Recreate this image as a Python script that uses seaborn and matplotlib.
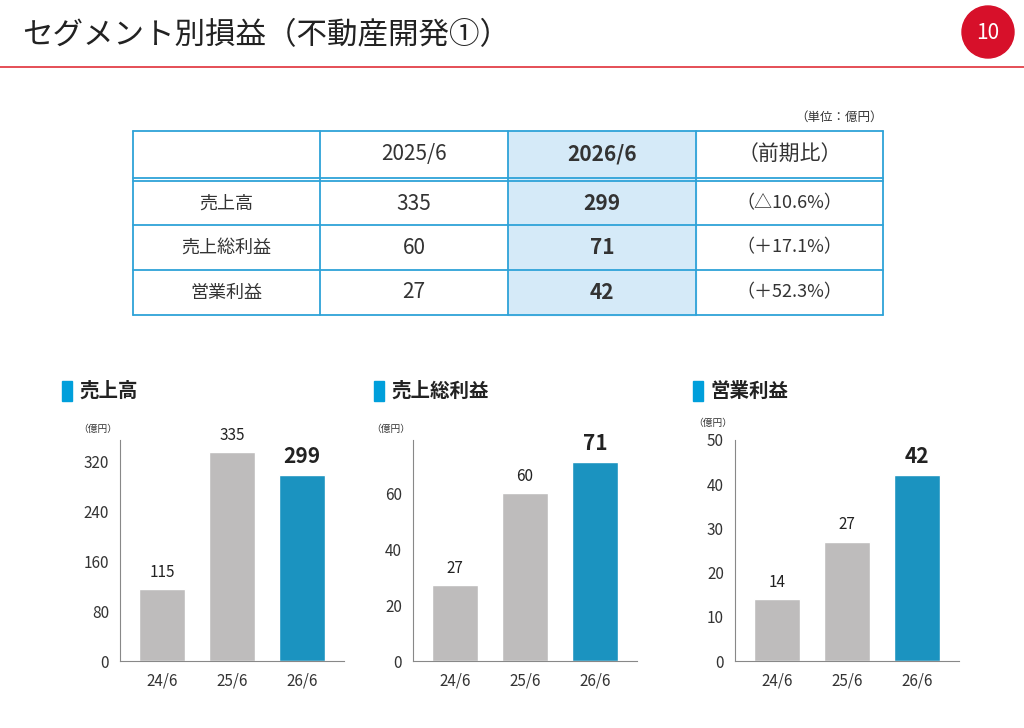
import matplotlib
matplotlib.use("Agg")
import matplotlib.pyplot as plt
import seaborn as sns
import pandas as pd
from matplotlib.patches import Rectangle, Circle

sns.set_theme(style="white")
plt.rcParams['font.family'] = ['Noto Sans CJK JP', 'DejaVu Sans']

# ---- data ----
periods = ['24/6', '25/6', '26/6']
sales = [115, 335, 299]
gross_profit = [27, 60, 71]
op_profit = [14, 27, 42]

table_cols = ['', '2025/6', '2026/6', '（前期比）']
table_rows = ['売上高', '売上総利益', '営業利益']
table_prev = ['335', '60', '27']
table_curr = ['299', '71', '42']
table_ratio = ['（△10.6%）', '（＋17.1%）', '（＋52.3%）']

GRAY = '#bebcbc'
BLUE = '#009fdb'
LINE = '#2ea3d8'
W, H = 1024, 728

fig = plt.figure(figsize=(W / 100, H / 100), dpi=100)
bg = fig.add_axes([0, 0, 1, 1])
bg.set_xlim(0, W)
bg.set_ylim(H, 0)
bg.axis('off')

# header
bg.text(22, 36, 'セグメント別損益（不動産開発①）', fontsize=22, va='center', color='#222222')
bg.plot([0, W], [67, 67], color='#e0303a', lw=1.2)
bg.add_patch(Circle((988, 32), 26, color='#d7102a'))
bg.text(988, 33, '10', color='white', fontsize=15, ha='center', va='center')

# table
xs = [133, 320, 508, 696, 883]
ys = [131, 178, 225, 270, 315]
bg.add_patch(Rectangle((xs[2], ys[0]), xs[3] - xs[2], ys[4] - ys[0], color='#d5eaf8', zorder=0))
for x in xs:
    bg.plot([x, x], [ys[0], ys[4]], color=LINE, lw=1.3)
for y in ys:
    bg.plot([xs[0], xs[4]], [y, y], color=LINE, lw=1.3)
bg.plot([xs[0], xs[4]], [ys[1] + 3, ys[1] + 3], color=LINE, lw=1.3)
bg.text(883, 117, '（単位：億円）', fontsize=9, ha='right', va='center', color='#333333')
for i, c in enumerate(table_cols):
    cx = (xs[i] + xs[i + 1]) / 2
    bg.text(cx, (ys[0] + ys[1]) / 2, c, fontsize=15, ha='center', va='center',
            fontweight='bold' if i == 2 else 'normal', color='#333333')
for r in range(3):
    cy = (ys[r + 1] + ys[r + 2]) / 2 + (2 if r == 0 else 0)
    vals = [table_rows[r], table_prev[r], table_curr[r], table_ratio[r]]
    for i, v in enumerate(vals):
        cx = (xs[i] + xs[i + 1]) / 2
        bg.text(cx, cy, v, fontsize=15 if i in (1, 2) else 13, ha='center', va='center',
                fontweight='bold' if i == 2 else 'normal', color='#333333')

# charts
charts = [
    ('売上高', sales, 120, 62, (0, 355), [0, 80, 160, 240, 320]),
    ('売上総利益', gross_profit, 413, 374, (0, 79), [0, 20, 40, 60]),
    ('営業利益', op_profit, 735, 693, (0, 50), [0, 10, 20, 30, 40, 50]),
]
for title, vals, left, tx, ylim, ticks in charts:
    bg.add_patch(Rectangle((tx, 381), 10, 20, color=BLUE))
    bg.text(tx + 17, 391, title, fontsize=14, fontweight='bold', va='center', color='#222222')
    bg.text(left - 42, 429 if left < 700 else 423, '（億円）', fontsize=7, va='center', color='#333333')

    ax = fig.add_axes([left / W, (H - 661) / H, 224 / W, (661 - 440) / H])
    df = pd.DataFrame({'period': periods, 'value': vals})
    sns.barplot(data=df, x='period', y='value', hue='period',
                palette=[GRAY, GRAY, BLUE], width=0.66, legend=False, ax=ax)
    ax.set_ylim(*ylim)
    ax.set_xlim(-0.6, 2.6)
    ax.set_yticks(ticks)
    ax.set_xlabel('')
    ax.set_ylabel('')
    ax.tick_params(labelsize=11, colors='#333333', length=0, pad=8)
    for s in ['top', 'right']:
        ax.spines[s].set_visible(False)
    for s in ['left', 'bottom']:
        ax.spines[s].set_color('#888888')
        ax.spines[s].set_linewidth(0.8)
    for i, v in enumerate(vals):
        last = i == len(vals) - 1
        ax.annotate(str(v), (i, v), xytext=(0, 6), textcoords='offset points',
                    ha='center', va='bottom', fontsize=15 if last else 11,
                    fontweight='bold' if last else 'normal', color='#222222')

fig.savefig('out.png', dpi=100)
